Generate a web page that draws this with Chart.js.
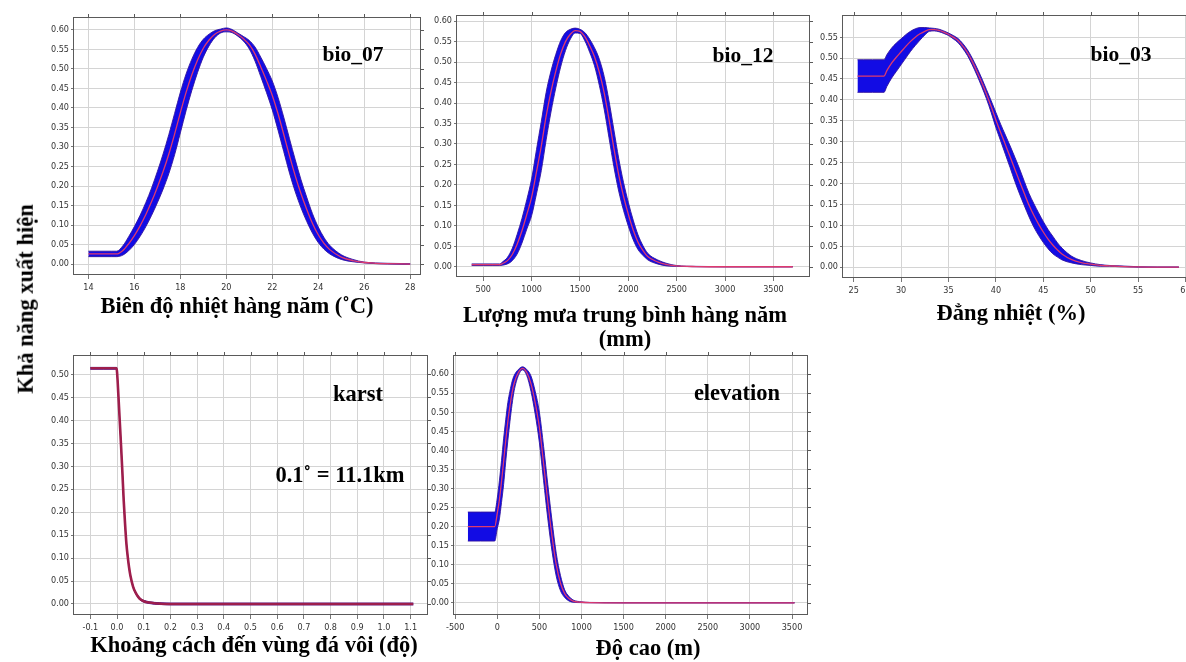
<!DOCTYPE html>
<html>
<head>
<meta charset="utf-8">
<script src="https://cdn.jsdelivr.net/npm/chart.js@4.4.1/dist/chart.umd.min.js"></script>
<style>
  html, body { margin: 0; padding: 0; background: #fff; overflow: hidden; }
  body { width: 1186px; height: 662px; position: relative; }
  canvas { position: absolute; z-index: 1; }
  .lbl {
    position: absolute;
    z-index: 2;
    font-family: 'Liberation Serif', 'Times New Roman', serif;
    font-weight: bold;
    font-size: 22.5px;
    line-height: 1;
    white-space: nowrap;
    color: #000;
    transform: translate(-50%, -50%);
  }
</style>
</head>
<body>

<div class="lbl" style="left:26px;top:299px;transform:translate(-50%,-50%) rotate(-90deg);">Khả năng xuất hiện</div>

<div class="lbl" style="left:353px;top:55px;font-size:21.5px;">bio_07</div>
<div class="lbl" style="left:743px;top:56px;font-size:21.5px;">bio_12</div>
<div class="lbl" style="left:1121px;top:55px;font-size:21.5px;">bio_03</div>
<div class="lbl" style="left:358px;top:394px;">karst</div>
<div class="lbl" style="left:340px;top:475px;">0.1˚ = 11.1km</div>
<div class="lbl" style="left:737px;top:393px;">elevation</div>

<div class="lbl" style="left:237px;top:306px;">Biên độ nhiệt hàng năm (˚C)</div>
<div class="lbl" style="left:625px;top:315px;">Lượng mưa trung bình hàng năm</div>
<div class="lbl" style="left:625px;top:339px;">(mm)</div>
<div class="lbl" style="left:1011px;top:313px;">Đẳng nhiệt (%)</div>
<div class="lbl" style="left:254px;top:645px;">Khoảng cách đến vùng đá vôi (độ)</div>
<div class="lbl" style="left:648px;top:648px;">Độ cao (m)</div>

<script>
// ---- tick values ----
const yTicks60 = [0.00, 0.05, 0.10, 0.15, 0.20, 0.25, 0.30, 0.35, 0.40, 0.45, 0.50, 0.55, 0.60];
const yTicks55 = [0.00, 0.05, 0.10, 0.15, 0.20, 0.25, 0.30, 0.35, 0.40, 0.45, 0.50, 0.55];
const yTicks50 = [0.00, 0.05, 0.10, 0.15, 0.20, 0.25, 0.30, 0.35, 0.40, 0.45, 0.50];
const bio07XTicks = [14, 16, 18, 20, 22, 24, 26, 28];
const bio12XTicks = [500, 1000, 1500, 2000, 2500, 3000, 3500];
const bio03XTicks = [25, 30, 35, 40, 45, 50, 55, 60];
const karstXTicks = [-0.1, 0.0, 0.1, 0.2, 0.3, 0.4, 0.5, 0.6, 0.7, 0.8, 0.9, 1.0, 1.1];
const elevXTicks = [-500, 0, 500, 1000, 1500, 2000, 2500, 3000, 3500];

// ---- response curves: x, mean, half width of the blue band ----
const bio07X = [14, 14.5, 15, 15.23, 15.5, 15.75, 16, 16.25, 16.5, 16.75, 17, 17.25, 17.5, 17.75, 18, 18.25, 18.5, 18.75, 19, 19.25, 19.5, 19.75, 20, 20.25, 20.5, 20.75, 21, 21.25, 21.5, 21.75, 22, 22.25, 22.5, 22.75, 23, 23.25, 23.5, 23.75, 24, 24.25, 24.5, 25, 25.5, 26, 26.5, 27, 28];
const bio07Mean = [0.026, 0.026, 0.026, 0.026, 0.035, 0.052, 0.073, 0.098, 0.127, 0.16, 0.197, 0.237, 0.282, 0.333, 0.388, 0.44, 0.485, 0.523, 0.553, 0.574, 0.589, 0.597, 0.60, 0.597, 0.588, 0.577, 0.562, 0.538, 0.505, 0.47, 0.432, 0.385, 0.332, 0.277, 0.226, 0.18, 0.14, 0.104, 0.075, 0.053, 0.037, 0.018, 0.009, 0.004, 0.002, 0.001, 0.0];
const bio07Band = [0.007, 0.007, 0.007, 0.007, 0.012, 0.018, 0.023, 0.027, 0.031, 0.035, 0.04, 0.045, 0.05, 0.053, 0.052, 0.047, 0.04, 0.032, 0.023, 0.015, 0.009, 0.005, 0.005, 0.004, 0.004, 0.006, 0.011, 0.018, 0.025, 0.031, 0.037, 0.042, 0.044, 0.044, 0.041, 0.036, 0.031, 0.025, 0.02, 0.015, 0.011, 0.006, 0.003, 0.001, 0.001, 0.001, 0.001];

const bio12X = [380, 500, 600, 670, 700, 750, 800, 850, 900, 950, 1000, 1050, 1100, 1150, 1200, 1250, 1300, 1350, 1400, 1450, 1500, 1550, 1600, 1650, 1700, 1750, 1800, 1850, 1900, 1950, 2000, 2050, 2100, 2150, 2200, 2300, 2400, 2500, 2700, 3000, 3700];
const bio12Mean = [0.005, 0.005, 0.005, 0.005, 0.008, 0.015, 0.03, 0.055, 0.088, 0.128, 0.17, 0.232, 0.295, 0.368, 0.428, 0.478, 0.52, 0.55, 0.568, 0.577, 0.575, 0.562, 0.54, 0.513, 0.475, 0.425, 0.36, 0.29, 0.225, 0.172, 0.128, 0.09, 0.06, 0.04, 0.025, 0.012, 0.005, 0.002, 0.0005, 0.0, 0.0];
const bio12Band = [0.002, 0.002, 0.002, 0.002, 0.004, 0.008, 0.015, 0.024, 0.03, 0.036, 0.045, 0.054, 0.06, 0.058, 0.05, 0.041, 0.032, 0.022, 0.012, 0.006, 0.005, 0.01, 0.016, 0.022, 0.032, 0.04, 0.045, 0.045, 0.04, 0.034, 0.029, 0.024, 0.018, 0.012, 0.008, 0.005, 0.003, 0.001, 0.0005, 0.0005, 0.0005];

const bio03X = [25.4, 26, 27, 28.2, 28.5, 29, 29.5, 30, 30.5, 31, 31.5, 32, 32.5, 33, 33.5, 34, 34.5, 35, 35.5, 36, 36.5, 37, 37.5, 38, 38.5, 39, 39.5, 40, 40.5, 41, 41.5, 42, 42.5, 43, 43.5, 44, 44.5, 45, 45.5, 46, 46.5, 47, 48, 49, 50, 51, 52, 53, 55, 57, 59.3];
const bio03Mean = [0.457, 0.457, 0.457, 0.457, 0.47, 0.488, 0.502, 0.515, 0.528, 0.54, 0.55, 0.558, 0.564, 0.568, 0.568, 0.566, 0.562, 0.557, 0.55, 0.542, 0.529, 0.513, 0.492, 0.468, 0.442, 0.414, 0.384, 0.352, 0.322, 0.293, 0.264, 0.234, 0.205, 0.176, 0.148, 0.124, 0.103, 0.084, 0.067, 0.053, 0.041, 0.031, 0.018, 0.011, 0.007, 0.004, 0.003, 0.002, 0.0005, 0.0, 0.0];
const bio03Band = [0.039, 0.039, 0.039, 0.039, 0.038, 0.036, 0.034, 0.031, 0.028, 0.024, 0.02, 0.015, 0.009, 0.004, 0.003, 0.003, 0.003, 0.003, 0.004, 0.005, 0.006, 0.007, 0.008, 0.009, 0.01, 0.011, 0.014, 0.018, 0.02, 0.023, 0.026, 0.029, 0.03, 0.029, 0.028, 0.028, 0.027, 0.025, 0.023, 0.021, 0.017, 0.014, 0.008, 0.005, 0.003, 0.002, 0.001, 0.001, 0.0005, 0.0005, 0.0005];

const karstX = [-0.1, -0.05, -0.002, 0.0, 0.005, 0.01, 0.015, 0.02, 0.025, 0.03, 0.035, 0.04, 0.045, 0.05, 0.06, 0.07, 0.08, 0.09, 0.1, 0.12, 0.14, 0.16, 0.2, 1.11];
const karstMean = [0.513, 0.513, 0.513, 0.505, 0.455, 0.40, 0.345, 0.287, 0.225, 0.175, 0.132, 0.103, 0.08, 0.062, 0.038, 0.024, 0.015, 0.009, 0.006, 0.003, 0.0015, 0.0008, 0.0, 0.0];
const karstBand = [0.002, 0.002, 0.002, 0.002, 0.002, 0.002, 0.002, 0.002, 0.002, 0.002, 0.002, 0.002, 0.002, 0.002, 0.002, 0.002, 0.002, 0.002, 0.002, 0.002, 0.002, 0.002, 0.002, 0.002];

const elevX = [-350, -200, -30, 0, 25, 50, 75, 100, 125, 150, 175, 200, 250, 300, 350, 400, 450, 500, 550, 600, 650, 700, 750, 800, 850, 900, 1000, 1100, 1500, 3530];
const elevMean = [0.20, 0.20, 0.20, 0.235, 0.27, 0.318, 0.37, 0.425, 0.475, 0.515, 0.55, 0.576, 0.604, 0.615, 0.604, 0.575, 0.525, 0.46, 0.365, 0.265, 0.175, 0.10, 0.052, 0.024, 0.011, 0.0045, 0.0015, 0.0005, 0.0, 0.0];
const elevBand = [0.038, 0.038, 0.038, 0.04, 0.05, 0.055, 0.06, 0.055, 0.05, 0.04, 0.03, 0.02, 0.008, 0.004, 0.008, 0.02, 0.03, 0.04, 0.045, 0.045, 0.04, 0.03, 0.02, 0.01, 0.006, 0.003, 0.001, 0.0005, 0.0005, 0.0005];

// ---- layout of the five panels (plot-area box in page pixels) ----
const Y_AXIS_W = 42, X_AXIS_H = 22, PAD_TOP = 8, PAD_RIGHT = 8;

const panels = [
    { box: [73, 17, 421, 275], xMin: 13.33, xMax: 28.47, yMin: -0.028, yMax: 0.633,
      xTicks: bio07XTicks, yTicks: yTicks60, xs: bio07X, mean: bio07Mean, band: bio07Band, xFmt: v => String(v) },
    { box: [456, 15, 810, 277], xMin: 218, xMax: 3878, yMin: -0.025, yMax: 0.615,
      xTicks: bio12XTicks, yTicks: yTicks60, xs: bio12X, mean: bio12Mean, band: bio12Band, xFmt: v => String(v) },
    { box: [842, 15, 1195, 278], xMin: 23.77, xMax: 61.0, yMin: -0.026, yMax: 0.603,
      xTicks: bio03XTicks, yTicks: yTicks55, xs: bio03X, mean: bio03Mean, band: bio03Band, xFmt: v => String(v) },
    { box: [73, 355, 428, 615], xMin: -0.165, xMax: 1.165, yMin: -0.024, yMax: 0.542,
      xTicks: karstXTicks, yTicks: yTicks50, xs: karstX, mean: karstMean, band: karstBand, xFmt: v => v.toFixed(1),
      meanColor: 'rgb(158, 30, 76)', meanWidth: 2.6 },
    { box: [453, 355, 808, 615], xMin: -526, xMax: 3690, yMin: -0.032, yMax: 0.65,
      xTicks: elevXTicks, yTicks: yTicks60, xs: elevX, mean: elevMean, band: elevBand, xFmt: v => String(v) }
];

Chart.defaults.font.family = "'Liberation Sans Narrow', 'Arial Narrow', 'DejaVu Sans Condensed', 'Liberation Sans', sans-serif";
Chart.defaults.font.size = 9;
Chart.defaults.color = '#333';

// full frame round the plot area, with small outward ticks on top and right
const framePlugin = {
    id: 'frame',
    afterDraw(chart) {
        const { ctx, chartArea: a, scales } = chart;
        ctx.save();
        ctx.strokeStyle = '#5a5a5a';
        ctx.lineWidth = 1;
        ctx.strokeRect(a.left + 0.5, a.top + 0.5, a.right - a.left - 1, a.bottom - a.top - 1);
        ctx.beginPath();
        scales.x.ticks.forEach(t => {
            const px = Math.round(scales.x.getPixelForValue(t.value)) + 0.5;
            ctx.moveTo(px, a.top);
            ctx.lineTo(px, a.top - 3);
        });
        scales.y.ticks.forEach(t => {
            const py = Math.round(scales.y.getPixelForValue(t.value)) + 0.5;
            ctx.moveTo(a.right, py);
            ctx.lineTo(a.right + 3, py);
        });
        ctx.stroke();
        ctx.restore();
    }
};

function makePanel(p) {
    const [l, t, r, b] = p.box;
    const canvas = document.createElement('canvas');
    const w = r - l + Y_AXIS_W + PAD_RIGHT;
    const h = b - t + PAD_TOP + X_AXIS_H;
    canvas.width = w;
    canvas.height = h;
    canvas.style.left = (l - Y_AXIS_W) + 'px';
    canvas.style.top = (t - PAD_TOP) + 'px';
    canvas.style.width = w + 'px';
    canvas.style.height = h + 'px';
    document.body.appendChild(canvas);

    const mid = p.xs.map((x, i) => ({ x: x, y: p.mean[i] }));
    const lo = p.xs.map((x, i) => ({ x: x, y: p.mean[i] - p.band[i] }));
    const hi = p.xs.map((x, i) => ({ x: x, y: p.mean[i] + p.band[i] }));

    new Chart(canvas.getContext('2d'), {
        type: 'line',
        data: {
            datasets: [
                {
                    data: mid,
                    borderColor: p.meanColor || 'rgb(222, 58, 110)',
                    borderWidth: p.meanWidth || 1.3,
                    pointRadius: 0,
                    fill: false,
                    order: 0,
                    cubicInterpolationMode: 'monotone'
                },
                {
                    data: lo,
                    borderColor: 'rgba(50, 20, 160, 0.9)',
                    borderWidth: 1,
                    pointRadius: 0,
                    fill: false,
                    order: 2,
                    cubicInterpolationMode: 'monotone'
                },
                {
                    data: hi,
                    borderColor: 'rgba(50, 20, 160, 0.9)',
                    borderWidth: 1,
                    pointRadius: 0,
                    fill: 1,
                    backgroundColor: 'rgb(18, 12, 228)',
                    order: 1,
                    cubicInterpolationMode: 'monotone'
                }
            ]
        },
        options: {
            responsive: false,
            animation: false,
            events: [],
            layout: { padding: { top: PAD_TOP, right: PAD_RIGHT, left: 0, bottom: 0 } },
            plugins: {
                legend: { display: false },
                tooltip: { enabled: false },
                filler: { drawTime: 'beforeDatasetsDraw' }
            },
            scales: {
                x: {
                    type: 'linear',
                    min: p.xMin,
                    max: p.xMax,
                    afterBuildTicks: scale => { scale.ticks = p.xTicks.map(v => ({ value: v })); },
                    afterFit: scale => { scale.height = X_AXIS_H; },
                    ticks: { callback: v => p.xFmt(v), padding: 3, maxRotation: 0, autoSkip: false },
                    grid: { color: '#d4d4d4', tickColor: '#777', tickLength: 4 },
                    border: { display: false }
                },
                y: {
                    type: 'linear',
                    min: p.yMin,
                    max: p.yMax,
                    afterBuildTicks: scale => { scale.ticks = p.yTicks.map(v => ({ value: v })); },
                    afterFit: scale => { scale.width = Y_AXIS_W; },
                    ticks: { callback: v => v.toFixed(2), padding: 2, autoSkip: false },
                    grid: { color: '#d4d4d4', tickColor: '#777', tickLength: 2 },
                    border: { display: false }
                }
            }
        },
        plugins: [framePlugin]
    });
}

panels.forEach(makePanel);
</script>
</body>
</html>
